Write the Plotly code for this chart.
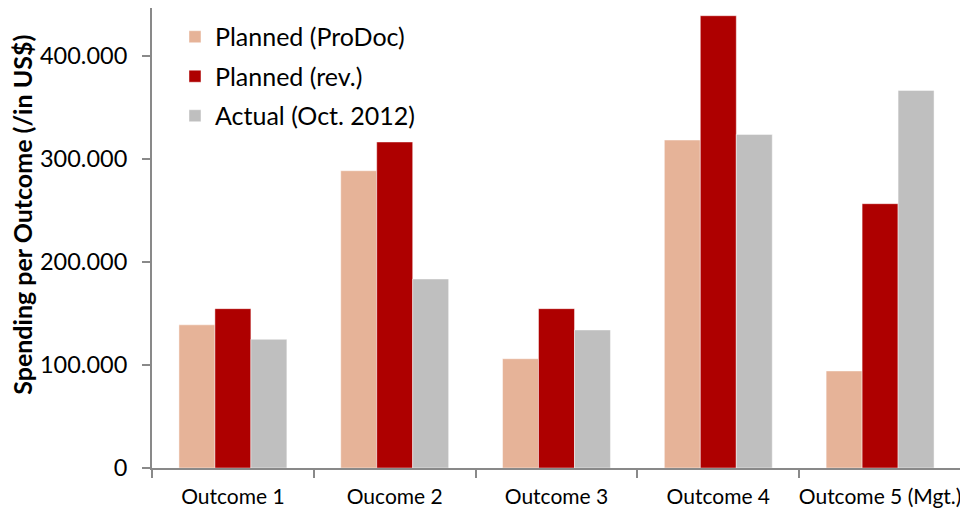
import plotly.graph_objects as go

categories = ["Outcome 1", "Oucome 2", "Outcome 3", "Outcome 4", "Outcome 5 (Mgt.)"]
planned_prodoc = [139000, 288600, 106100, 318400, 94200]
planned_rev = [154700, 316500, 154700, 439100, 256600]
actual_oct2012 = [124900, 183500, 134000, 323900, 366600]
series_names = ["Planned (ProDoc)", "Planned (rev.)", "Actual (Oct. 2012)"]
series_colors = ["#E6B398", "#AE0000", "#BFBFBF"]
y_tickvals = [0, 100000, 200000, 300000, 400000]
y_ticktext = ["0", "100.000", "200.000", "300.000", "400.000"]
y_title = "Spending per Outcome (/in US$)"

FONT = "Lato"
fig = go.Figure()
for i, (name, vals, col) in enumerate(zip(series_names, [planned_prodoc, planned_rev, actual_oct2012], series_colors)):
    fig.add_trace(go.Bar(
        x=categories, y=vals, name=name, legendgroup=f"g{i}",
        marker=dict(color=col, line=dict(color="rgba(255,255,255,0.45)", width=1)),
    ))

fig.add_annotation(
    text=f"<b>{y_title}</b>", textangle=-90,
    xref="paper", yref="paper", x=-0.161, y=0.55,
    xanchor="center", yanchor="middle", showarrow=False,
    font=dict(size=25, family=FONT, color="#000"),
)

# page body has an 8px margin: figure is 960x503 so that it ends at the window edge
fig.update_layout(
    width=960, height=503,
    margin=dict(l=144, r=7, t=0, b=43, autoexpand=False),
    paper_bgcolor="white", plot_bgcolor="white",
    barmode="group", bargap=0.333, bargroupgap=0,
    font=dict(family=FONT, color="#000000"),
    showlegend=True,
    legend=dict(x=0.0284, y=0.987, xanchor="left", yanchor="top",
                font=dict(size=25, family=FONT, color="#000"),
                tracegroupgap=4, bgcolor="rgba(0,0,0,0)"),
    xaxis=dict(
        automargin=False, tickangle=0,
        showline=True, linecolor="#898989", linewidth=2,
        ticks="outside", tickson="boundaries", ticklen=8, tickcolor="#898989", tickwidth=2,
        ticklabelstandoff=9,
        tickfont=dict(size=21, family=FONT, color="#000"),
        showgrid=False,
    ),
    yaxis=dict(
        automargin=False,
        range=[0, 446600],
        tickvals=y_tickvals, ticktext=y_ticktext,
        showline=True, linecolor="#898989", linewidth=2,
        ticks="outside", ticklen=8, tickcolor="#898989", tickwidth=2,
        ticklabelstandoff=10,
        tickfont=dict(size=23.5, family=FONT, color="#000"),
        showgrid=False, zeroline=False,
    ),
)
fig.write_html("out.html")
